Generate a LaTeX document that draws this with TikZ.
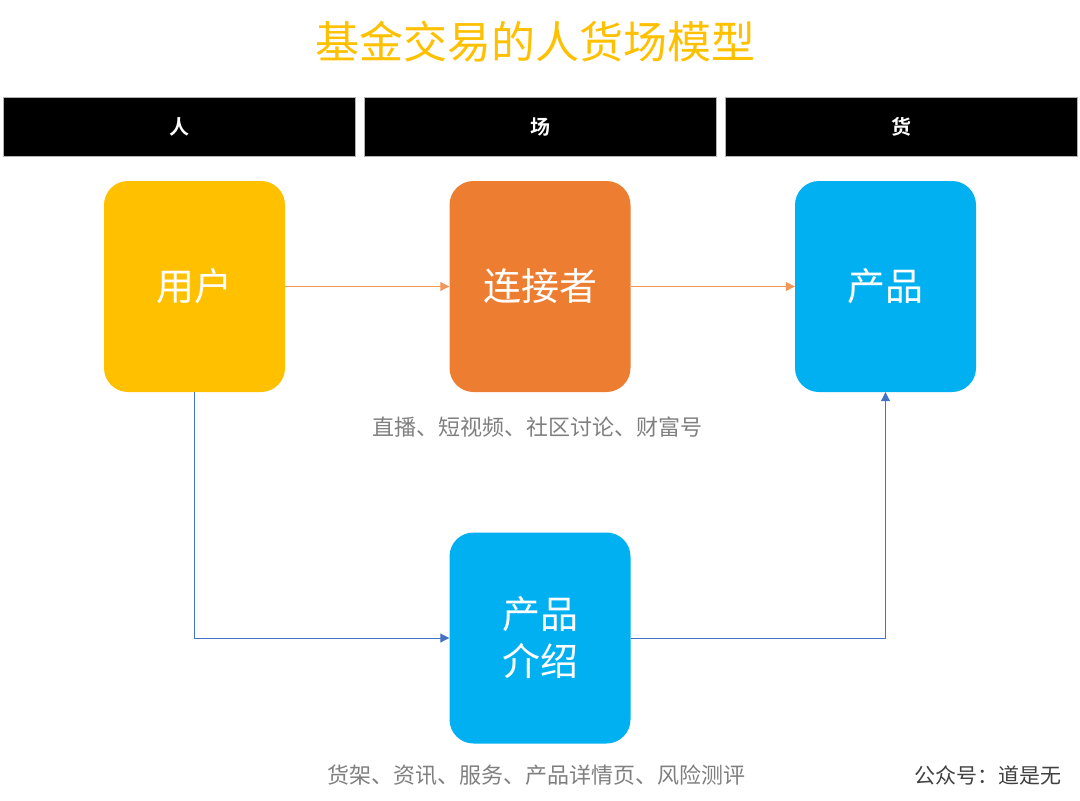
\documentclass[tikz,border=0pt]{standalone}
\usepackage{fontspec}
\setmainfont{Noto Sans CJK SC}[BoldFont={Noto Sans CJK SC Bold}]
\usetikzlibrary{arrows.meta}
\definecolor{titleyellow}{HTML}{FFC000}
\definecolor{cardyellow}{HTML}{FFC000}
\definecolor{cardorange}{HTML}{ED7D31}
\definecolor{cardblue}{HTML}{00B0F0}
\definecolor{lineblue}{HTML}{4472C4}
\definecolor{captiongray}{HTML}{7F7F7F}
\definecolor{markgray}{HTML}{404040}
\tikzset{
    headbar/.style={fill=black, draw=gray!60, line width=0.8pt, minimum width=352, minimum height=59,
        inner sep=0pt, text=white, font=\bfseries\fontsize{20}{24}\selectfont},
    card/.style={rounded corners=24, minimum width=181, minimum height=211, inner sep=0pt,
        text=white, align=center, font=\fontsize{38}{47}\selectfont},
    caption/.style={text=captiongray, font=\fontsize{22}{26}\selectfont, inner sep=0pt},
    flowo/.style={draw=cardorange!80, line width=1pt, -{Triangle[length=9pt, width=9pt]}},
    flowb/.style={draw=lineblue, line width=1pt, -{Triangle[length=9pt, width=9pt]}}
}
\begin{document}
\begin{tikzpicture}[x=1pt, y=-1pt]
        \newcommand{\figcolone}{194.5}
        \newcommand{\figcoltwo}{540}
        \newcommand{\figcolthree}{885.5}
        \newcommand{\figrowtop}{286.5}
        \newcommand{\figrowbottom}{638}
        \useasboundingbox (0,0) rectangle (1080,801);
        \node[text=titleyellow, font=\fontsize{44}{50}\selectfont, inner sep=0pt] (title) at (535,42) {基金交易的人货场模型};
        % header row
        \node[headbar] (hren) at (179,126.5) {人};
        \node[headbar] (hchang) at (540,126.5) {场};
        \node[headbar] (hhuo) at (901,126.5) {货};
        % cards
        \node[card, fill=cardyellow] (user) at (\figcolone,\figrowtop) {用户};
        \node[card, fill=cardorange] (link) at (\figcoltwo,\figrowtop) {连接者};
        \node[card, fill=cardblue] (prod) at (\figcolthree,\figrowtop) {产品};
        \node[card, fill=cardblue] (intro) at (\figcoltwo,\figrowbottom) {产品\\介绍};
        \node[caption] (linkcap) at (537,427) {直播、短视频、社区讨论、财富号};
        \node[caption] (introcap) at (536,775) {货架、资讯、服务、产品详情页、风险测评};
        \node[text=markgray, font=\fontsize{21}{25}\selectfont, inner sep=0pt] (mark) at (988,775) {公众号：道是无};
        % connectors
        \draw[flowo] (user) -- (link);
        \draw[flowo] (link) -- (prod);
        \draw[flowb] (user.south) |- (intro.west);
        \draw[flowb] (intro.east) -| (prod.south);
    \end{tikzpicture}
\end{document}
